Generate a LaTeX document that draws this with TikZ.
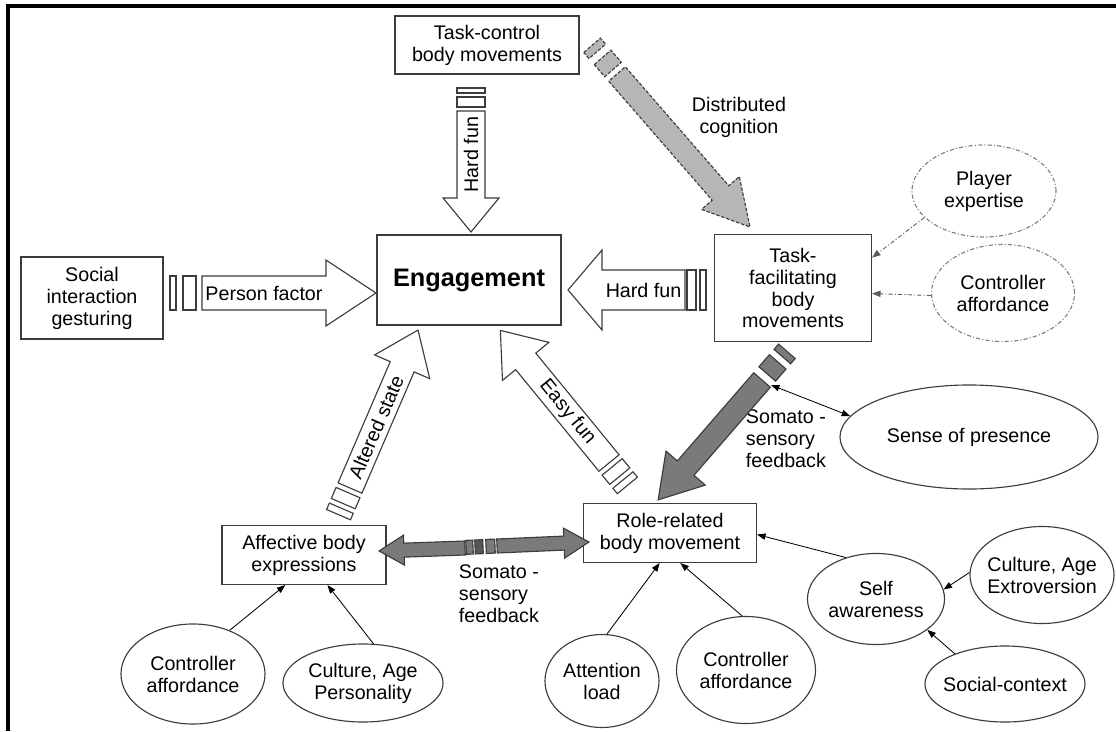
\documentclass[tikz,border=0pt]{standalone}
\usepackage{fontspec}
\setmainfont{Liberation Sans}
\usetikzlibrary{arrows.meta}
\usetikzlibrary{positioning}
\usetikzlibrary{shapes.geometric}
\usetikzlibrary{calc}

\definecolor{edgegray}{HTML}{3C3C3C}
\definecolor{lightfill}{HTML}{B6B6B6}
\definecolor{darkfill}{HTML}{7A7A7A}

% direction and length (in px) from #1 to #2
\newcommand{\fatdir}[2]{%
  \pgfpointdiff{\pgfpointanchor{#1}{center}}{\pgfpointanchor{#2}{center}}%
  \pgfgetlastxy{\fdx}{\fdy}%
  \pgfmathsetmacro{\fang}{atan2(\fdy,\fdx)}%
  \pgfmathsetmacro{\flen}{veclen(\fdx,\fdy)/0.711317}}

% block arrow: style, tail, tip, shaft half width, head half width, head length, text angle, text
\newcommand{\fatarrow}[8]{%
  \fatdir{#2}{#3}%
  \begin{scope}[shift={(#2)}, rotate=\fang, x=0.025cm, y=0.025cm]
    \draw[#1] (0,-#4) -- ({\flen-#6},-#4) -- ({\flen-#6},-#5) -- (\flen,0)
      -- ({\flen-#6},#5) -- ({\flen-#6},#4) -- (0,#4) -- cycle;
    \node[rotate=#7] at ({(\flen-#6)/2},0) {#8};
  \end{scope}}

% little bars behind the tail
\newcommand{\fatstripes}[4]{%
  \fatdir{#2}{#3}%
  \begin{scope}[shift={(#2)}, rotate=\fang, x=0.025cm, y=0.025cm]
    \foreach \a/\b/\h in {#4} \draw[#1] (\a,-\h) rectangle (\b,\h);
  \end{scope}}

\begin{document}
\begin{tikzpicture}[x=0.025cm, y=-0.025cm,
    every node/.style={font=\fontsize{14}{15.6}\selectfont},
    box/.style={draw=edgegray, line width=0.8pt, fill=white, rectangle, inner sep=0pt, align=center},
    blob/.style={draw=edgegray, line width=0.8pt, ellipse, inner sep=-6pt, align=center},
    dashblob/.style={blob, draw=gray, dash pattern=on 3pt off 1.5pt on 0.8pt off 1.5pt},
    pointer/.style={-{Triangle[length=6pt, width=4.5pt]}, line width=0.6pt},
    dashpointer/.style={pointer, draw=gray!70!black, dash pattern=on 3pt off 1.5pt on 0.8pt off 1.5pt},
    hollow/.style={draw=edgegray, fill=white, line width=0.8pt},
    greyfat/.style={draw=edgegray, fill=lightfill, line width=0.8pt, dash pattern=on 2.5pt off 1.2pt},
    darkfat/.style={draw=edgegray, fill=darkfill, line width=0.8pt}]

    \useasboundingbox (0,0) rectangle (1116,731);
    \draw[line width=2.8pt] (1116,6) -- (8,6) -- (8,731);

    \node (taskctrl) [box, minimum width=4.6cm, minimum height=1.45cm] at (487,45) {Task-control\\body movements};
    \node (engage) [box, minimum width=4.6cm, minimum height=2.25cm, font=\fontsize{18}{20}\selectfont\bfseries] at (469,280) {Engagement};
    \node (socialint) [box, minimum width=3.55cm, minimum height=2.05cm] at (92,298) {Social\\interaction\\gesturing};
    \node (taskfac) [box, minimum width=3.925cm, minimum height=2.675cm] at (793,288) {Task-\\facilitating\\body\\movements};
    \node (role) [box, minimum width=4.325cm, minimum height=1.475cm] at (670,533) {Role-related\\body movement};
    \node (affect) [box, minimum width=4.1cm, minimum height=1.475cm] at (304,555) {Affective body\\expressions};

    \node (pexp) [dashblob, minimum width=3.6cm, minimum height=2.3cm] at (984,191) {Player\\expertise};
    \node (caffa) [dashblob, minimum width=3.575cm, minimum height=2.425cm] at (1003,293) {Controller\\affordance};
    \node (presence) [blob, minimum width=6.45cm, minimum height=2.6cm] at (969,437) {Sense of presence};
    \node (selfaw) [blob, minimum width=3.425cm, minimum height=2.275cm] at (876,599) {Self\\awareness};
    \node (cultext) [blob, minimum width=3.6cm, minimum height=2.425cm] at (1042,575) {Culture, Age\\Extroversion};
    \node (socctx) [blob, minimum width=4cm, minimum height=1.9cm] at (1005,684) {Social-context};
    \node (caffc) [blob, minimum width=3.475cm, minimum height=2.675cm] at (746,670) {Controller\\affordance};
    \node (attn) [blob, minimum width=2.85cm, minimum height=2.325cm] at (602,681) {Attention\\load};
    \node (cultpers) [blob, minimum width=4cm, minimum height=1.95cm] at (363,683) {Culture, Age\\Personality};
    \node (caffb) [blob, minimum width=3.6cm, minimum height=2.5cm] at (193,674) {Controller\\affordance};

    \node (dclabel) [align=center] at (739,117) {Distributed\\cognition};
    \node (sslabela) [anchor=west, align=left] at (741,439) {Somato -\\sensory\\feedback};
    \node (sslabelb) [anchor=west, align=left] at (454,594) {Somato -\\sensory\\feedback};

    \coordinate (hfa) at (471,111);  \coordinate (hfb) at (471,232);
    \coordinate (pfa) at (202,293);  \coordinate (pfb) at (376,293);
    \coordinate (hga) at (685,290);  \coordinate (hgb) at (568,290);
    \coordinate (asa) at (350,488);  \coordinate (asb) at (418,330);
    \coordinate (efa) at (609,463);  \coordinate (efb) at (500,330);
    \coordinate (dca) at (617,74);   \coordinate (dcb) at (750,227);
    \coordinate (ssa) at (762,380);  \coordinate (ssb) at (658,500);
    \coordinate (dba) at (465,548);  \coordinate (dbl) at (379,551);
    \coordinate (dbb) at (497,546);  \coordinate (dbr) at (589,542);
    \coordinate (sp) at (771,385);

    \fatarrow{hollow}{hfa}{hfb}{14}{28}{34}{90}{Hard fun}
    \fatstripes{hollow}{hfa}{hfb}{-14/-4/14, -23/-18/14}
    \fatarrow{hollow}{pfa}{pfb}{17}{33}{50}{0}{Person factor}
    \fatstripes{hollow}{pfa}{pfb}{-19/-6/17, -32/-26/17}
    \fatarrow{hollow}{hga}{hgb}{20}{40}{34}{0}{Hard fun}
    \fatstripes{hollow}{hga}{hgb}{-11/-2/20, -21/-15/20}
    \fatarrow{hollow}{asa}{asb}{13}{30}{40}{\fang}{Altered state}
    \fatstripes{hollow}{asa}{asb}{-17/-5/13, -29/-22/13}
    \fatarrow{hollow}{efa}{efb}{13}{30}{40}{\fang-180}{Easy fun}
    \fatstripes{hollow}{efa}{efb}{-17/-5/13, -29/-22/13}

    \fatarrow{greyfat}{dca}{dcb}{11}{25}{45}{0}{}
    \fatstripes{greyfat}{dca}{dcb}{-22/-6/11, -38/-30/11}
    \fatarrow{darkfat}{ssa}{ssb}{11}{26}{42}{0}{}
    \fatstripes{darkfat}{ssa}{ssb}{-24/-8/11, -38/-31/11}
    \fatarrow{darkfat}{dba}{dbl}{7}{15}{25}{0}{}
    \fatarrow{darkfat}{dbb}{dbr}{7}{15}{25}{0}{}
    \fatstripes{darkfat}{dbb}{dbr}{-31/-24/7, -11/-2/7}
    \fatstripes{darkfat, fill=darkfill!70!black}{dbb}{dbr}{-22/-14/7}

    \draw[pointer] (caffb.50) -- (affect.-122);
    \draw[pointer] (cultpers.75) -- (affect.-52);
    \draw[pointer] (attn.84) -- (role.-109);
    \draw[pointer] (caffc.94) -- (role.-71);
    \draw[pointer] (selfaw.126) -- (role.-1);
    \draw[pointer] (cultext.178) -- (selfaw.8);
    \draw[pointer] (socctx.149) -- (selfaw.-31);
    \draw[pointer, {Triangle[length=6pt, width=4.5pt]}-{Triangle[length=6pt, width=4.5pt]}] (sp) -- (presence.170);
    \draw[dashpointer] (pexp.-156) -- (taskfac.21);
    \draw[dashpointer] (caffa.-178) -- (taskfac.-4);
\end{tikzpicture}
\end{document}
